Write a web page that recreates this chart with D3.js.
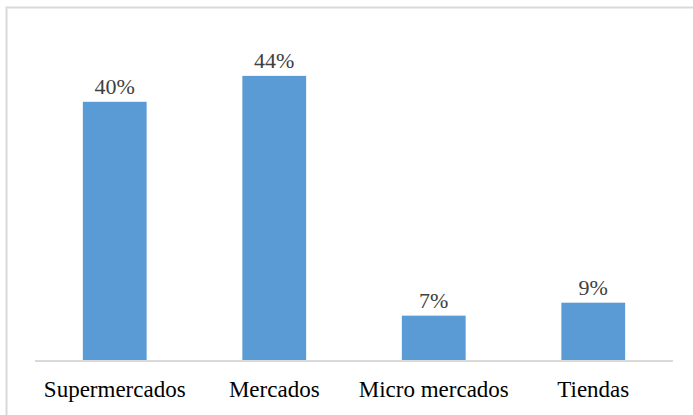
<!DOCTYPE html>
<html>
<head>
<meta charset="utf-8">
<script src="https://cdn.jsdelivr.net/npm/d3@7"></script>
<style>
  body { margin: 0; background: #fff; }
  svg { display: block; }
</style>
</head>
<body>
<svg></svg>
<script>
// Data

let categories = ['Supermercados', 'Mercados', 'Micro mercados', 'Tiendas']
let values = [0.40, 0.44, 0.07, 0.09]
let valueLabels = ['40%', '44%', '7%', '9%']

let width = 693
let height = 415
let serif = 'Liberation Serif'

let svg = d3.select('svg')
    .attr('width', width)
    .attr('height', height)

// Chart frame (only top and left edges fall inside the picture)

svg.append('rect')
    .attr('x', 6.5)
    .attr('y', 7.5)
    .attr('width', 700)
    .attr('height', 420)
    .attr('fill', 'none')
    .attr('stroke', '#d9d9d9')
    .attr('stroke-width', 2)

// Scales

let xScale = d3.scaleBand()
    .domain(categories)
    .range([35, 673])
    .paddingInner(0.6)
    .paddingOuter(0.3)

let yScale = d3.scaleLinear()
    .domain([0, 0.5])
    .range([361, 37])

// Bars

svg.selectAll('.bar')
    .data(values)
    .enter()
    .append('rect')
    .attr('class', 'bar')
    .attr('x', (d, i) => xScale(categories[i]))
    .attr('y', (d) => yScale(d))
    .attr('width', xScale.bandwidth())
    .attr('height', (d) => yScale(0) - yScale(d))
    .attr('fill', '#5b9bd5')

// Value labels

svg.selectAll('.value')
    .data(values)
    .enter()
    .append('text')
    .attr('class', 'value')
    .attr('x', (d, i) => xScale(categories[i]) + xScale.bandwidth() / 2)
    .attr('y', (d) => yScale(d) - 8)
    .attr('text-anchor', 'middle')
    .attr('font-family', serif)
    .attr('font-size', 22)
    .attr('fill', '#404040')
    .text((d, i) => valueLabels[i])

// X axis

let xAxis = d3.axisBottom(xScale)
    .tickSize(0)
    .tickPadding(0)

let gx = svg.append('g')
    .attr('transform', 'translate(0, 361)')
    .call(xAxis)
    .attr('font-family', serif)
    .attr('font-size', 23)

gx.select('.domain')
    .attr('stroke', '#d9d9d9')
    .attr('stroke-width', 2)
    .attr('d', 'M35,0H673')

gx.selectAll('text')
    .attr('y', 36)
    .attr('dy', 0)
    .attr('fill', '#000')
</script>
</body>
</html>
